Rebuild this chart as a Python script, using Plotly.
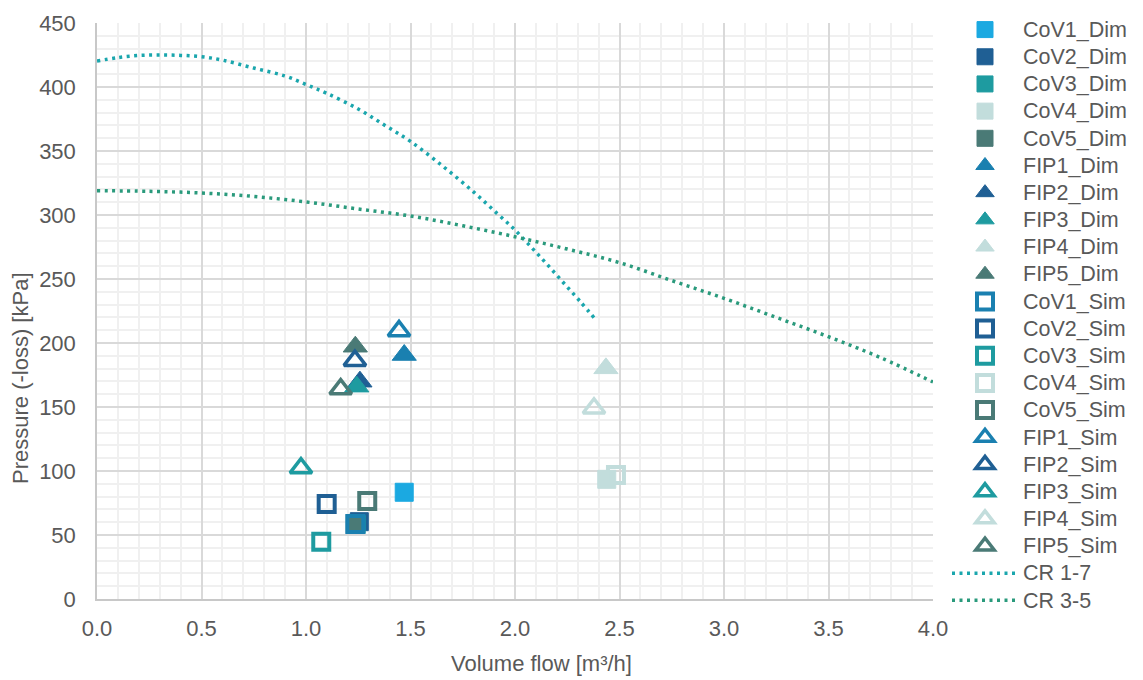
import plotly.graph_objects as go

# ---------------- data ----------------
cov_dim_names = ["CoV1_Dim", "CoV2_Dim", "CoV3_Dim", "CoV4_Dim", "CoV5_Dim"]
cov_dim_x = [1.470, 1.255, 1.240, 2.439, 1.236]
cov_dim_y = [83.4, 60.4, 58.3, 93.5, 58.6]

fip_dim_names = ["FIP1_Dim", "FIP2_Dim", "FIP3_Dim", "FIP4_Dim", "FIP5_Dim"]
fip_dim_x = [1.470, 1.258, 1.243, 2.435, 1.236]
fip_dim_y = [190.6, 169.8, 165.9, 180.2, 197.1]

cov_sim_names = ["CoV1_Sim", "CoV2_Sim", "CoV3_Sim", "CoV4_Sim", "CoV5_Sim"]
cov_sim_x = [1.236, 1.099, 1.073, 2.483, 1.293]
cov_sim_y = [58.6, 74.2, 44.8, 96.9, 76.6]

fip_sim_names = ["FIP1_Sim", "FIP2_Sim", "FIP3_Sim", "FIP4_Sim", "FIP5_Sim"]
fip_sim_x = [1.445, 1.234, 0.976, 2.378, 1.166]
fip_sim_y = [209.4, 186.2, 102.3, 149.0, 164.0]

cr_names = ["CR 1-7", "CR 3-5"]
cr17_x = [0.0, 0.1, 0.2, 0.3, 0.4, 0.5, 0.6, 0.75, 0.9, 1.0, 1.1, 1.25, 1.378,
          1.5, 1.657, 1.804, 1.917, 2.0, 2.08, 2.156, 2.233, 2.31, 2.39]
cr17_y = [420.3, 423.0, 424.6, 425.0, 424.7, 423.7, 421.0, 414.8, 408.6, 402.0,
          395.0, 382.8, 370.0, 357.5, 337.8, 317.7, 300.8, 288.3, 274.5, 261.0,
          246.9, 232.8, 217.5]

cr35_x = [0.0, 0.25, 0.5, 0.75, 1.0, 1.25, 1.5, 1.75, 2.0, 2.25, 2.5, 2.75,
          3.0, 3.25, 3.5, 3.75, 4.0]
cr35_y = [319.0, 318.5, 317.2, 314.5, 310.2, 304.7, 299.2, 291.6, 283.0, 273.4,
          262.8, 248.8, 234.9, 220.0, 204.9, 188.5, 169.5]

cov_dim_colors = ["#1ba9e1", "#1f5f94", "#1e9ba0", "#c2dddc", "#4a7a76"]
other_colors = ["#1a80b0", "#1f5f94", "#1e9ba0", "#c2dddc", "#4a7a76"]
cr_colors = ["#1aa6ad", "#2a9a7c"]

FONT = "Arial, Liberation Sans, sans-serif"
TXT = "#595959"


def lg(name):
    # legend label drawn at the reference's text size
    return "<span style='font-size:21.5px'>" + name + "</span>"


fig = go.Figure()

for n, x, y, c in zip(cov_dim_names, cov_dim_x, cov_dim_y, cov_dim_colors):
    fig.add_trace(go.Scatter(x=[x], y=[y], name=lg(n), mode="markers",
                             hovertext=n,
                             marker=dict(symbol="square", size=18, color=c,
                                         line=dict(width=1, color=c))))
for n, x, y, c in zip(fip_dim_names, fip_dim_x, fip_dim_y, other_colors):
    fig.add_trace(go.Scatter(x=[x], y=[y], name=lg(n), mode="markers",
                             hovertext=n,
                             marker=dict(symbol="triangle-up", size=21, color=c,
                                         line=dict(width=1, color=c))))
for n, x, y, c in zip(cov_sim_names, cov_sim_x, cov_sim_y, other_colors):
    fig.add_trace(go.Scatter(x=[x], y=[y], name=lg(n), mode="markers",
                             hovertext=n,
                             marker=dict(symbol="square-open", size=16, color=c,
                                         line=dict(width=4, color=c))))
for n, x, y, c in zip(fip_sim_names, fip_sim_x, fip_sim_y, other_colors):
    fig.add_trace(go.Scatter(x=[x], y=[y], name=lg(n), mode="markers",
                             hovertext=n,
                             marker=dict(symbol="triangle-up-open", size=19, color=c,
                                         line=dict(width=3.5, color=c))))

for n, xs, ys, c in zip(cr_names, [cr17_x, cr35_x], [cr17_y, cr35_y], cr_colors):
    fig.add_trace(go.Scatter(x=xs, y=ys, name=lg(n), mode="lines",
                             line=dict(color=c, width=3.5, dash="3px,4.5px",
                                       shape="spline")))

W, H = 1143, 680
L, R, T, B = 97, 210, 23, 81

fig.update_layout(
    width=W, height=H,
    margin=dict(l=L, r=R, t=T, b=B, autoexpand=False),
    paper_bgcolor="white", plot_bgcolor="white",
    font=dict(family=FONT, color=TXT, size=22),
    showlegend=True,
    legend=dict(
        x=(947 - L) / (W - L - R), xanchor="left",
        y=1 - 11 / H, yref="container", yanchor="top",
        font=dict(family=FONT, size=18.6, color=TXT),
        itemwidth=66, tracegroupgap=0, maxheight=680,
        bgcolor="rgba(0,0,0,0)",
    ),
    xaxis=dict(
        range=[0, 4], dtick=0.5, tick0=0, tickformat=".1f",
        showgrid=True, gridcolor="#d9d9d9", gridwidth=1.5,
        minor=dict(dtick=0.1, showgrid=True, gridcolor="#f0f0f0", gridwidth=1.5),
        zeroline=False, showline=True, linecolor="#c8c8c8", linewidth=1.5,
        ticks="", ticklabelstandoff=9,
        tickfont=dict(size=22, color=TXT, family=FONT),
    ),
    yaxis=dict(
        range=[0, 450], dtick=50, tick0=0,
        showgrid=True, gridcolor="#d9d9d9", gridwidth=1.5,
        minor=dict(dtick=10, showgrid=True, gridcolor="#f0f0f0", gridwidth=1.5),
        zeroline=False, showline=True, linecolor="#c8c8c8", linewidth=1.5,
        ticks="", ticklabelstandoff=15,
        tickfont=dict(size=22, color=TXT, family=FONT),
    ),
    annotations=[
        dict(text="Volume flow [m³/h]", xref="paper", yref="paper",
             x=(541 - L) / (W - L - R), y=-(663 - (H - B)) / (H - T - B),
             xanchor="center", yanchor="middle", showarrow=False,
             font=dict(family=FONT, size=22, color=TXT)),
        dict(text="Pressure (-loss) [kPa]", xref="paper", yref="paper",
             x=-(L - 20) / (W - L - R), y=((H - B) - 378) / (H - T - B),
             xanchor="center", yanchor="middle", showarrow=False, textangle=-90,
             font=dict(family=FONT, size=22, color=TXT)),
    ],
)

fig.write_html(
    "out.html",
    config={"displayModeBar": False},
    post_script="document.body.style.margin='0';document.body.style.overflow='hidden';",
)
